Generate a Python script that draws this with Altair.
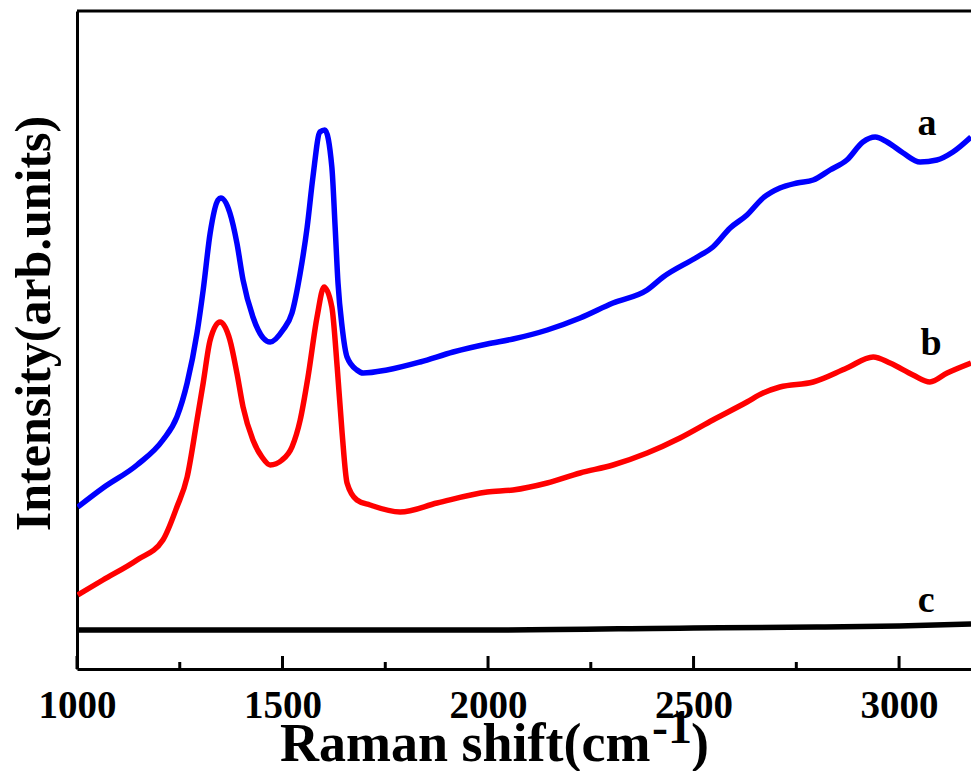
import altair as alt
import pandas as pd

# ---- data (wavenumber in cm^-1, intensity in arb. units) ----
a_wavenumber = [1002, 1063, 1146, 1209, 1243, 1268, 1292, 1307, 1324, 1343, 1350, 1372, 1389, 1404,
                1428, 1453, 1470, 1501, 1523, 1543, 1560, 1574, 1591, 1603, 1620, 1628, 1635, 1645,
                1657, 1681, 1696, 1754, 1835, 1915, 1998, 2061, 2144, 2224, 2304, 2387, 2426, 2509,
                2547, 2589, 2630, 2669, 2710, 2752, 2791, 2832, 2873, 2912, 2942, 2971, 3010, 3051,
                3092, 3131, 3175]
a_intensity = [162, 181, 204, 229, 252, 286, 336, 379, 436, 469, 471, 456, 426, 389,
               352, 331, 327, 339, 356, 396, 442, 492, 537, 539, 502, 442, 386, 342,
               312, 299, 296, 299, 307, 317, 325, 330, 339, 351, 366, 379, 392, 412,
               422, 441, 454, 471, 481, 486, 489, 499, 509, 527, 532, 527, 516, 507,
               509, 517, 532]

b_wavenumber = [1002, 1063, 1146, 1209, 1243, 1268, 1292, 1307, 1324, 1348, 1372, 1389, 1404, 1428,
                1450, 1470, 1499, 1523, 1543, 1562, 1584, 1601, 1620, 1633, 1645, 1657, 1681, 1713,
                1786, 1876, 1998, 2061, 2144, 2224, 2304, 2387, 2467, 2547, 2630, 2669, 2710, 2791,
                2873, 2937, 2978, 3034, 3075, 3117, 3175]
b_intensity = [74, 89, 109, 129, 162, 192, 249, 286, 329, 347, 329, 296, 262, 229,
               212, 204, 209, 222, 249, 292, 352, 382, 362, 302, 236, 186, 169, 164,
               157, 166, 177, 179, 186, 196, 204, 216, 231, 249, 267, 276, 282, 287,
               301, 312, 306, 294, 287, 296, 306]

c_wavenumber = [1000, 1500, 2000, 2500, 2800, 3000, 3175]
c_intensity = [39, 39, 39, 41, 42, 43, 45]

series_names = ["a", "b", "c"]
series_colors = ["#0000ff", "#ff0000", "#000000"]
series_widths = [5.5, 5.5, 3.5]

label_text = ["a", "b", "c"]
label_wavenumber = [3068, 3078, 3066]
label_intensity = [534, 314, 57]

major_ticks = [1000, 1500, 2000, 2500, 3000]
minor_ticks = [1250, 1750, 2250, 2750]

# ---- tables ----
rows = []
for name, wn, it in [("a", a_wavenumber, a_intensity),
                     ("b", b_wavenumber, b_intensity),
                     ("c", c_wavenumber, c_intensity)]:
    rows += [{"series": name, "wavenumber": w, "intensity": i} for w, i in zip(wn, it)]
df = pd.DataFrame(rows)

labels_df = pd.DataFrame({"text": label_text, "wavenumber": label_wavenumber,
                          "intensity": label_intensity})
major_df = pd.DataFrame({"wavenumber": major_ticks})
minor_df = pd.DataFrame({"wavenumber": minor_ticks})
one = pd.DataFrame({"k": [0]})

W, H = 894, 658
FONT = "Liberation Serif"

x_scale = alt.Scale(domain=[1000, 3175], nice=False, zero=False)
y_scale = alt.Scale(domain=[0, 658], nice=False, zero=False)

x_axis = alt.Axis(values=major_ticks, format="d", title=None, ticks=False, tickSize=0, grid=False,
                  labelFont=FONT, labelFontWeight="bold", labelFontSize=39, labelColor="black",
                  labelPadding=48, labelBaseline="alphabetic", labelFlush=False,
                  labelOverlap=False, domainColor="black", domainWidth=3)
y_axis = alt.Axis(labels=False, ticks=False, tickSize=0, grid=False,
                  domainColor="black", domainWidth=3,
                  title="Intensity(arb.units)", titleFont=FONT, titleFontSize=50,
                  titleFontWeight="bold", titleColor="black", titleAngle=270,
                  titleX=-28, titleY=312, titleAlign="center", titleBaseline="alphabetic")

X = alt.X("wavenumber:Q", scale=x_scale, axis=x_axis)
Y = alt.Y("intensity:Q", scale=y_scale, axis=y_axis)

lines = alt.Chart(df).mark_line(interpolate="monotone", clip=True).encode(
    x=X, y=Y,
    color=alt.Color("series:N", scale=alt.Scale(domain=series_names, range=series_colors), legend=None),
    strokeWidth=alt.StrokeWidth("series:N", scale=alt.Scale(domain=series_names, range=series_widths),
                                legend=None),
    detail="series:N",
)

labels = alt.Chart(labels_df).mark_text(font=FONT, fontSize=38, fontWeight="bold", color="black",
                                        align="center", baseline="alphabetic").encode(
    x=X, y=Y, text="text:N")

major = alt.Chart(major_df).mark_rule(color="black", strokeWidth=3).encode(
    x=X, y=alt.value(H), y2=alt.value(H - 13))
minor = alt.Chart(minor_df).mark_rule(color="black", strokeWidth=3).encode(
    x=X, y=alt.value(H), y2=alt.value(H - 7))

top_border = alt.Chart(one).mark_rule(color="black", strokeWidth=3).encode(
    x=alt.value(0), x2=alt.value(W), y=alt.value(0))

t1 = alt.Chart(one).mark_text(text="Raman shift(cm", font=FONT, fontSize=54, fontWeight="bold",
                              color="black", align="left", baseline="alphabetic").encode(
    x=alt.value(203), y=alt.value(750))
t2 = alt.Chart(one).mark_text(text="-1", font=FONT, fontSize=48, fontWeight="bold",
                              color="black", align="left", baseline="alphabetic").encode(
    x=alt.value(575), y=alt.value(732))
t3 = alt.Chart(one).mark_text(text=")", font=FONT, fontSize=54, fontWeight="bold",
                              color="black", align="left", baseline="alphabetic").encode(
    x=alt.value(614), y=alt.value(750))

chart = alt.layer(lines, labels, major, minor, top_border, t1, t2, t3).properties(
    width=W, height=H,
    padding={"left": 77, "top": 11, "right": 0, "bottom": 102},
    autosize=alt.AutoSizeParams(type="none"),
    background="white",
).configure_view(stroke=None)

chart.save("out.html", embed_options={"renderer": "svg", "actions": False})
